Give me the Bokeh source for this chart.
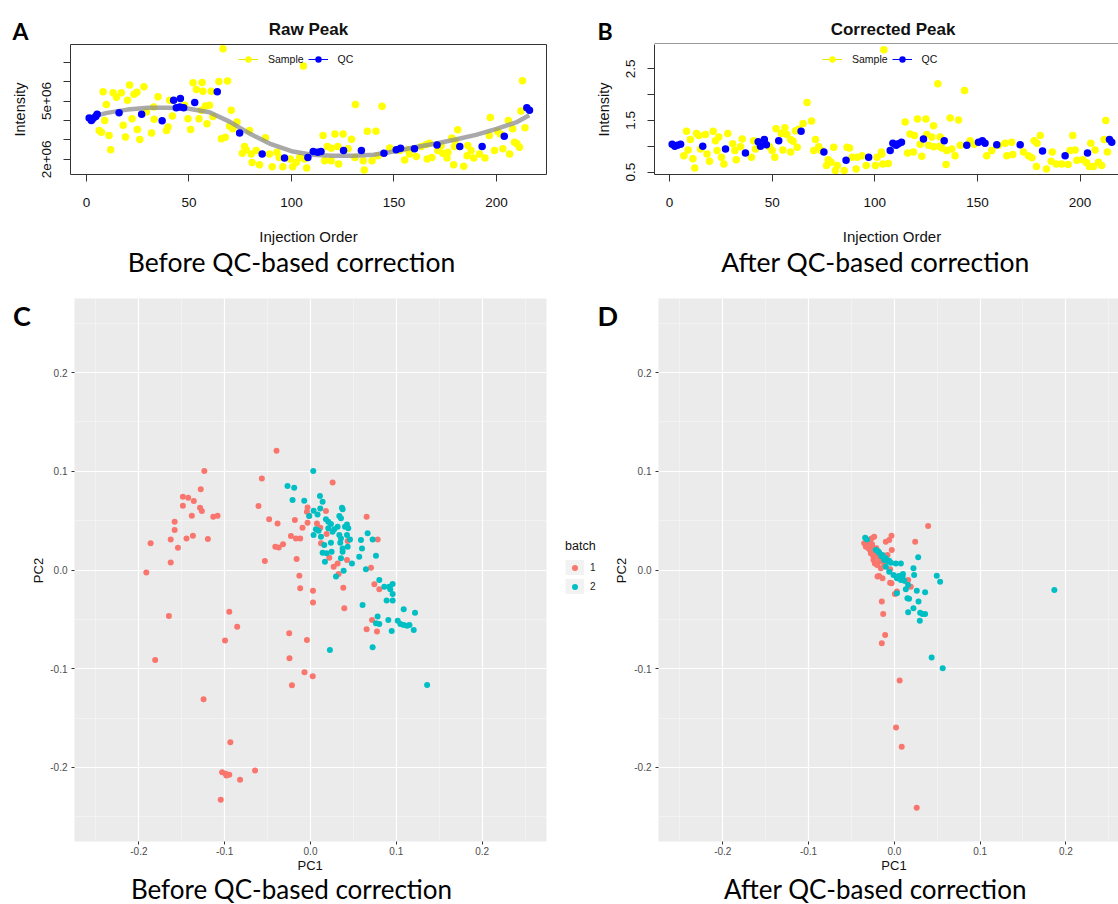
import math
from bokeh.plotting import figure
from bokeh.models import (Legend, LegendItem, FixedTicker, LinearAxis, Range1d, PrintfTickFormatter)
from bokeh.layouts import column, row
from bokeh.embed import file_html
from bokeh.resources import INLINE
from bokeh.core.properties import value

# ---------------- data ----------------
# Panel A: raw peak (intensity in millions)
raw_sample_order = [66.6, 8.1, 13, 17, 21, 23.2, 24.6, 28, 20, 14.6, 9.7, 8.9, 6.2, 7.3, 11, 11.8, 19, 22.2,
                    17.9, 24.8, 26, 31.7, 33, 29.2, 32.8, 34.9, 39, 39.8, 40.6, 41.9, 47.9, 49.5, 50.8, 54.9,
                    56, 52, 56.4, 53.6, 56.8, 60.9, 64.6, 68.8, 58, 60, 61.7, 58.8, 70.6, 69.8, 71.4, 65.8,
                    67.7, 73.4, 79.5, 87.3, 77.1, 77.9, 76, 80.4, 82.8, 80.8, 84.4, 89.3, 90.6, 92.9, 94,
                    95.8, 99.4, 100.6, 104, 102.3, 106.3,
                    105.8, 131.2, 144.2, 212.7, 197, 211.9, 213.9, 205.8, 181.1, 178.2, 179.8, 196.5, 200.6,
                    201.9, 207.9, 208.8, 210, 211.2, 203.1, 199, 206.4, 121.2, 125.2, 115.4, 129.3, 137,
                    141.2, 117.5, 119.4, 122.6, 127.6, 116.2, 119.4, 123, 130.9, 135, 135.5, 139.3, 107.4,
                    142.2, 147.9, 155.2, 157.6, 160.9, 163.3, 165.7, 167.3, 166.2, 168.5, 171.4, 173, 173.8,
                    175.9, 179.1, 176.3, 184, 186, 187.6, 185.7, 188.9, 191.7, 194.4, 152.8, 156.9, 179.5]
raw_sample_intensity = [7.69, 5.48, 5.43, 5.43, 5.82, 5.35, 5.45, 5.74, 5.04, 5.2, 4.82, 4.0, 3.49, 3.4, 3.23,
                        2.5, 3.15, 4.09, 3.75, 3.54, 3.02, 3.35, 4.06, 4.44, 4.7, 5.22, 3.49, 3.66, 5.04,
                        4.23, 4.79, 4.09, 3.54, 4.09, 4.53, 5.94, 5.96, 5.6, 5.5, 5.5, 6.0, 6.03, 4.75, 4.79,
                        4.21, 3.83, 4.53, 3.7, 3.57, 3.06, 3.14, 3.92, 3.49, 3.11, 2.66, 2.48, 2.31, 2.28,
                        2.45, 1.84, 1.72, 2.28, 1.62, 2.36, 2.1, 1.62, 2.02, 1.62, 2.1, 1.84, 2.02,
                        6.81, 4.82, 4.73, 6.05, 4.15, 4.49, 3.63, 4.0, 3.52, 3.1, 2.97, 3.23, 3.45, 3.31,
                        3.57, 2.88, 2.8, 2.62, 2.54, 2.45, 2.28, 3.31, 3.31, 3.23, 3.04, 3.44, 3.44, 2.66,
                        2.57, 2.66, 2.54, 1.93, 1.93, 1.76, 2.1, 1.93, 1.45, 1.93, 1.55, 2.19, 2.59, 1.97,
                        2.28, 2.14, 2.66, 2.76, 2.83, 2.02, 2.1, 2.45, 2.71, 2.31, 2.07, 1.72, 2.36, 1.65,
                        2.71, 2.45, 2.19, 2.07, 2.28, 2.07, 2.45, 2.5, 2.66]
raw_qc_order = [1.3, 2.4, 3.2, 4.5, 5.2, 15.9, 26.9, 36.9, 42.5, 43.8, 45.5, 45.8, 47.4, 52.8, 63.8, 74.7,
                85.7, 96.6, 108, 110.6, 112.8, 114.4, 125.4, 134.1, 145.1, 151.1, 153.2, 160, 171, 182.1,
                193, 203.8, 214.8, 216.1]
raw_qc_intensity = [4.13, 4.0, 4.1, 4.2, 4.32, 4.4, 4.32, 3.99, 5.04, 4.65, 4.7, 5.13, 4.65, 4.92, 5.48,
                    3.35, 2.28, 2.07, 2.1, 2.41, 2.36, 2.4, 2.45, 2.45, 2.31, 2.5, 2.57, 2.54, 2.74, 2.66,
                    2.66, 3.19, 4.65, 4.53]
raw_fit_order = [1, 10, 20, 30, 40, 50, 60, 70, 80, 90, 100, 110, 120, 130, 140, 150, 160, 170, 180, 190,
                 200, 210, 216]
raw_fit_intensity = [4.15, 4.39, 4.56, 4.65, 4.65, 4.6, 4.42, 3.93, 3.3, 2.78, 2.42, 2.24, 2.18, 2.18, 2.24,
                     2.4, 2.62, 2.8, 3.02, 3.26, 3.57, 3.92, 4.27]
raw_x_ticks = [0, 50, 100, 150, 200]
raw_y_ticks = [2, 3, 4, 5, 6, 7]
raw_y_tick_labels = {2: "2e+06", 3: "", 4: "", 5: "5e+06", 6: "", 7: ""}

# Panel B: corrected peak
cor_sample_order = [104.4, 67, 69.2, 65.1, 51.9, 56.2, 54.5, 59, 61.4, 60.2, 57.2, 62.2, 59, 55.2, 51.3, 50,
                    48.7, 41, 41.9, 35.4, 34.6, 31.8, 32.5, 39.9, 30.8, 28.4, 26.5, 25.3, 24, 22.4, 21.3,
                    23.2, 19.5, 18.3, 17.5, 14.3, 15.1, 13.2, 10.2, 8.3, 9.1, 7, 11.4, 12.3, 71.1, 72.7, 70.3,
                    73.9, 77.3, 80, 78.7, 76.5, 81.7, 80.8, 85.1, 86.5, 87.7, 89, 91.4, 93.8, 90.9, 95.8,
                    100.3, 101.1, 103.2, 103.9, 63,
                    130.7, 143.7, 114.8, 120.8, 124.9, 136.7, 140.8, 128.6, 212.5, 117.2, 119.3, 125.3, 127.8,
                    131.8, 131.5, 128.6, 132.6, 126.2, 122.1, 116, 118.8, 122.9, 134.7, 106.6, 135, 137.5,
                    139.1, 141.6, 146.4, 148.4, 154.5, 157, 160.2, 163.5, 166.7, 164.3, 167.2, 172.4, 174.8,
                    176.5, 177.6, 179, 180.6, 178.7, 183.6, 186.4, 185.9, 188.4, 191, 194.2, 196.4, 195.1,
                    197.6, 198.4, 201.3, 203.2, 205.2, 207.3, 204.5, 206.5, 208.9, 210.5, 211.7, 213.3, 103.4]
cor_sample_intensity = [2.87, 1.85, 1.49, 1.44, 1.34, 1.36, 1.25, 1.13, 1.3, 1.1, 1.23, 0.98, 0.89, 0.93,
                        0.79, 0.92, 0.99, 1.11, 0.95, 1.14, 0.99, 0.92, 0.74, 0.79, 1.05, 1.25, 0.66, 0.79,
                        1.18, 1.11, 1.29, 0.92, 0.71, 0.85, 1.23, 1.21, 0.95, 1.25, 1.13, 1.29, 0.93, 0.82,
                        0.76, 0.58, 1.13, 0.99, 0.92, 0.92, 0.74, 0.98, 0.69, 0.63, 0.63, 0.53, 0.53, 0.98,
                        0.97, 0.79, 0.79, 0.82, 0.56, 0.63, 0.63, 0.79, 0.89, 0.66, 1.33,
                        2.21, 2.08, 1.47, 1.53, 1.53, 1.55, 1.51, 1.4, 1.5, 1.24, 1.21, 1.23, 1.18, 1.18, 1.0,
                        0.99, 0.97, 1.02, 1.04, 0.87, 0.89, 0.81, 0.65, 0.67, 0.92, 0.95, 0.82, 1.02, 1.11,
                        1.04, 0.82, 0.92, 1.02, 1.06, 1.08, 0.82, 0.84, 0.89, 0.82, 0.78, 1.11, 1.06, 1.21,
                        0.61, 0.56, 0.89, 0.71, 0.66, 0.66, 0.65, 1.21, 0.92, 0.93, 0.73, 0.74, 0.68, 1.06,
                        0.93, 0.61, 0.61, 0.69, 0.63, 1.13, 0.89, 0.85]
cor_qc_order = [1.3, 2.6, 3.9, 5.4, 16.2, 27.3, 37, 43.2, 44.3, 46.2, 47.2, 53.2, 64.1, 75.2, 86, 97, 107.5,
                108.8, 110.4, 111.5, 113, 123.7, 133.8, 144.8, 150.5, 152.4, 153.7, 159.4, 170.8, 181.7,
                192.7, 203.6, 214.3, 215.4]
cor_qc_intensity = [1.04, 1.0, 1.02, 1.04, 1.0, 0.95, 0.87, 1.09, 1.0, 1.13, 1.03, 1.11, 1.29, 0.89, 0.73,
                    0.79, 0.92, 1.06, 1.02, 1.05, 1.08, 1.14, 1.11, 1.02, 1.08, 1.11, 1.06, 1.03, 1.03, 0.91,
                    0.82, 0.87, 1.13, 1.08]
cor_x_ticks = [0, 50, 100, 150, 200]
cor_y_ticks = [0.5, 1.0, 1.5, 2.0, 2.5]
cor_y_tick_labels = {0.5: "0.5", 1.0: "", 1.5: "1.5", 2.0: "", 2.5: "2.5"}

# Panel C: PCA before correction
before_b1_pc1 = [-0.1237, -0.1279, -0.1487, -0.1425, -0.136, -0.1487, -0.1287, -0.1266, -0.1383, -0.1133,
                 -0.1083, -0.1583, -0.1583, -0.1629, -0.1445, -0.137, -0.1196, -0.1545, -0.1863, -0.1629,
                 -0.1913,
                 -0.0396, -0.0567, 0.0258, -0.0606, -0.0482, -0.0384, -0.0182, -0.0093, -0.0034, -0.0042,
                 -0.0015, -0.0034, -0.0228, -0.017, -0.012, -0.041, -0.037, -0.032, -0.0532, -0.0162,
                 -0.013, -0.012, 0.0029, 0.0029, -0.0248, -0.0042, 0.018, 0.0075, 0.0114, 0.0188, 0.0122,
                 0.0433, 0.0219, 0.027, 0.0316, 0.0328, 0.0425, 0.0382, 0.0394, 0.0654, 0.0783, 0.0705,
                 0.0744, 0.0802, 0.0717, 0.0654, 0.0775,
                 -0.0946, -0.165, -0.0854, -0.0996, -0.0245, -0.181, -0.007, 0.0026, -0.0216, -0.1246,
                 -0.0934, -0.103, -0.0988, -0.0946, -0.098, -0.0646, -0.0821, -0.1046]
before_b1_pc2 = [0.1002, 0.0817, 0.0742, 0.0732, 0.0698, 0.0651, 0.0631, 0.0597, 0.055, 0.054, 0.055,
                 0.0489, 0.0405, 0.031, 0.032, 0.0348, 0.0314, 0.0226, 0.027, 0.0076, -0.0025,
                 0.1208, 0.0928, 0.0887, 0.0648, 0.0513, 0.0472, 0.0506, 0.0428, 0.0634, 0.059, 0.055,
                 0.0479, 0.0344, 0.032, 0.032, 0.0236, 0.0229, 0.026, 0.0091, 0.0111, -0.0057, -0.0186,
                 -0.0209, -0.033, -0.064, -0.0709, 0.0597, 0.0472, 0.0428, 0.0364, 0.027, 0.0294, 0.0125,
                 0.0034, 0.0067, -0.004, 0.0101, -0.0179, -0.0388, 0.054, 0.031, 0.0024, -0.0145, -0.0196,
                 -0.0506, -0.06, -0.0624,
                 -0.0422, -0.0466, -0.0574, -0.0715, -0.0894, -0.0911, -0.1036, -0.1076, -0.1167, -0.1309,
                 -0.1744, -0.2048, -0.2065, -0.2075, -0.2082, -0.2031, -0.2125, -0.2328]
before_b2_pc1 = [0.0032, -0.0268, -0.019, -0.0209, -0.0073, 0.011, 0.0141, 0.0114, 0.0367, 0.0374, 0.0036,
                 0.0082, -0.0015, 0.018, 0.0207, 0.0238, 0.0336, 0.0355, 0.0425, 0.044, 0.0402, 0.0316,
                 0.0277, 0.0207, 0.0257, 0.0063, 0.0094, 0.0036, 0.0122, 0.0336, 0.0355, 0.0425, 0.046,
                 0.0347, 0.0238, 0.016, 0.0374, 0.0433, 0.0141, 0.0188, 0.0246, 0.0168, 0.0355, 0.0374,
                 0.0483, 0.0568, 0.06, 0.0588, 0.0666, 0.0724, 0.0763, 0.0646, 0.0386, 0.0297, 0.0802,
                 0.086, 0.0918, 0.0957, 0.0929, 0.0957, 0.0887, 0.0957, 0.0607, 0.1086, 0.1218, 0.0782,
                 0.0907, 0.1016, 0.0763, 0.0802, 0.0946, 0.1047, 0.1086, 0.1125, 0.1153, 0.1203, 0.0724,
                 0.0226, 0.1359]
before_b2_pc2 = [0.1002, 0.085, 0.0833, 0.0708, 0.0702, 0.0749, 0.0692, 0.0624, 0.0631, 0.0615, 0.0601,
                 0.0563, 0.0547, 0.0513, 0.0489, 0.0466, 0.0547, 0.0523, 0.0462, 0.0422, 0.0439, 0.0439,
                 0.0412, 0.0422, 0.0388, 0.0412, 0.0398, 0.0354, 0.0337, 0.0354, 0.032, 0.0354, 0.031,
                 0.0277, 0.0277, 0.0253, 0.0219, 0.0236, 0.0175, 0.0169, 0.0186, 0.0084, 0.0118, 0.0186,
                 0.0067, 0.0135, 0.0219, 0.0304, 0.0371, 0.031, 0.0145, 0.0007, -0.0007, -0.0067, -0.0101,
                 -0.0169, -0.0169, -0.0142, -0.0196, -0.0243, -0.031, -0.031, -0.0354, -0.0398, -0.0432,
                 -0.0472, -0.0506, -0.0513, -0.054, -0.0547, -0.0617, -0.0547, -0.0557, -0.0564, -0.0557,
                 -0.0607, -0.0783, -0.081, -0.1164]

# Panel D: PCA after correction
after_b1_pc1 = [0.0394, -0.0033, 0.0243, -0.0099, -0.003, -0.0266, -0.0235, -0.0313, -0.0282, -0.0255,
                -0.03, -0.0235, -0.0216, -0.0274, -0.0196, -0.0243, -0.0227, -0.0177, -0.0138, -0.0119,
                -0.0157, -0.0177, -0.0138, -0.0196, -0.0049, -0.0049, -0.0033, 0.0006, 0.003, 0.0146,
                0.0161, 0.0192, -0.006, -0.008, -0.0332, -0.0351, -0.0146, -0.013, -0.0107, -0.0146,
                0.0062, 0.002, 0.0086, 0.0261, -0.029, -0.026, -0.032, -0.028, -0.025, -0.021, -0.024,
                -0.02, -0.016, -0.018]
after_b1_pc2 = [0.0445, 0.0348, 0.0287, 0.0287, 0.0202, 0.032, 0.0337, 0.0304, 0.027, 0.0236, 0.0219,
                0.0202, 0.0169, 0.0169, 0.0135, 0.0101, 0.0067, 0.0084, 0.0101, 0.0051, 0.0017, -0.0061,
                -0.0084, -0.0067, 0.0007, -0.0128, -0.0135, -0.0243, -0.0219, -0.0118, -0.0101, -0.0169,
                0.0304, 0.0152, 0.0236, 0.027, -0.032, -0.0445, -0.0658, -0.0742, -0.112, -0.1596,
                -0.1791, -0.2409, 0.029, 0.026, 0.025, 0.02, 0.015, 0.022, 0.012, 0.005, 0.012, 0.018]
after_b2_pc1 = [-0.034, -0.0216, -0.0177, -0.0138, -0.0099, -0.006, -0.0119, -0.004, 0.0017, 0.0076, 0.0278,
                0.0223, -0.0099, -0.006, -0.001, 0.003, 0.0076, 0.0096, 0.0115, 0.0231, 0.0495, 0.0534,
                0.0161, 0.0134, 0.0262, 0.0359, 0.003, 0.0153, 0.0172, 0.0282, 0.0223, 0.0161, 0.0301,
                0.0328, 0.0359, 0.0297, 0.1866, 0.0435, 0.0564, -0.032, -0.019, -0.015, -0.008, 0.005,
                0.01]
after_b2_pc2 = [0.0327, 0.0202, 0.0175, 0.0152, 0.0118, 0.0094, 0.0101, 0.0074, 0.0067, 0.0067, 0.0128,
                0.0017, 0.0034, -0.0017, -0.0051, -0.0084, -0.0101, -0.0067, -0.0108, -0.0051, -0.0057,
                -0.0118, -0.0152, -0.0196, -0.0209, -0.0226, -0.0236, -0.0287, -0.029, -0.032, -0.0388,
                -0.0428, -0.0432, -0.0445, -0.0445, -0.0513, -0.0202, -0.0887, -0.0995, 0.031, 0.019,
                0.014, 0.009, -0.006, -0.004]
pc_ticks = [-0.2, -0.1, 0.0, 0.1, 0.2]
pc_minor_ticks = [-0.25, -0.15, -0.05, 0.05, 0.15, 0.25]
batch_labels = ["1", "2"]

# ---------------- styles ----------------
R_FONT = "Liberation Sans"
CAP_FONT = "Lato"
BOX = "#333333"
YELLOW = "#FFFF00"
BLUE = "#0000FF"
RED = "#F8766D"
TEAL = "#00BFC4"
INK = "#111111"


def strip(width, height, top=0, bottom=0):
    """Text-only strip; units are pixels measured up from the frame bottom."""
    p = figure(width=width, height=height, x_range=Range1d(0, width),
               y_range=Range1d(0, height - top - bottom),
               x_axis_type=None, y_axis_type=None, output_backend="svg", toolbar_location=None,
               min_border=0, min_border_left=0, min_border_right=0, min_border_top=top,
               min_border_bottom=bottom, outline_line_color=None, background_fill_color="white",
               border_fill_color="white")
    return p


def txt(p, x, y, s, size, font=R_FONT, style="normal", align="center", angle=0.0, color=INK):
    p.text(x=[x], y=[y], text=[s], text_font=value(font), text_font_size=value(f"{size}px"),
           text_font_style=style, text_align=align, text_baseline="middle", angle=angle,
           text_color=color)


def r_panel(width, x_rng, y_rng, border_left, border_right, xticks, yticks, ylabels, boxed):
    p = figure(width=width, height=176, x_range=Range1d(*x_rng), y_range=Range1d(*y_rng),
               x_axis_type=None, y_axis_type=None, output_backend="svg", toolbar_location=None,
               min_border_left=border_left, min_border_right=border_right, min_border_top=0,
               min_border_bottom=46, outline_line_color=BOX if boxed else None,
               border_fill_color="white")
    xa = LinearAxis(ticker=FixedTicker(ticks=xticks))
    ya = LinearAxis(ticker=FixedTicker(ticks=yticks), major_label_overrides=ylabels,
                    major_label_orientation="vertical")
    for ax in (xa, ya):
        ax.axis_line_color = None if boxed else BOX
        ax.major_tick_line_color = BOX
        ax.minor_tick_line_color = None
        ax.major_tick_out = 7
        ax.major_tick_in = 0
        ax.major_label_text_font = R_FONT
        ax.major_label_text_font_size = "13.5px"
        ax.major_label_text_color = INK
    xa.major_label_standoff = 16
    ya.major_label_standoff = 12
    ya.axis_label = "Intensity"
    ya.axis_label_text_font = R_FONT
    ya.axis_label_text_font_size = "14.5px"
    ya.axis_label_text_font_style = "normal"
    ya.axis_label_text_color = INK
    ya.axis_label_standoff = 12
    p.add_layout(xa, "below")
    p.add_layout(ya, "left")
    return p


def r_content(p, s_x, s_y, q_x, q_y, fit_x=None, fit_y=None):
    ys = p.scatter(s_x, s_y, size=7.5, color=YELLOW, line_color=None)
    if fit_x is not None:
        p.line(fit_x, fit_y, line_color="#8C8C8C", line_width=4.5, line_alpha=0.75)
    qs = p.scatter(q_x, q_y, size=7.5, color=BLUE, line_color=None)
    yl = p.line(s_x, s_y, line_color="#E6E600", line_width=1, visible=False)
    bl = p.line(q_x, q_y, line_color=BLUE, line_width=1, visible=False)
    leg = Legend(items=[LegendItem(label="Sample", renderers=[yl, ys]),
                        LegendItem(label="QC", renderers=[bl, qs])],
                 orientation="horizontal", location=(168, 107), border_line_color=None,
                 background_fill_alpha=0, glyph_width=20, glyph_height=16, label_standoff=10,
                 spacing=4, padding=0, margin=0, label_text_font=R_FONT,
                 label_text_font_size="10.5px", label_text_color=INK)
    p.add_layout(leg)


# ---------------- top row: A and B ----------------
top_strip = strip(1118, 44)
txt(top_strip, 12, 14, "A", 23, font=CAP_FONT, style="bold", align="left", color="black")
txt(top_strip, 308, 15.5, "Raw Peak", 17, style="bold")
txt(top_strip, 597, 14, "B", 23, font=CAP_FONT, style="bold", align="left", color="black")
txt(top_strip, 892.5, 15.5, "Corrected Peak", 17, style="bold")
top_strip.line(x=[654, 1118], y=[0.5, 0.5], line_color=BOX, line_width=1)  # top edge of panel B box

pA = r_panel(560, (-7.8, 224.4), (1.22, 7.91), 70, 14, raw_x_ticks, raw_y_ticks, raw_y_tick_labels, True)
r_content(pA, raw_sample_order, raw_sample_intensity, raw_qc_order, raw_qc_intensity,
          raw_fit_order, raw_fit_intensity)

pB = r_panel(558, (-7.3, 218.7), (0.455, 2.97), 94, 0, cor_x_ticks, cor_y_ticks, cor_y_tick_labels, False)
r_content(pB, cor_sample_order, cor_sample_intensity, cor_qc_order, cor_qc_intensity)

mid_strip = strip(1118, 62)
txt(mid_strip, 308, 45.7, "Injection Order", 15)
txt(mid_strip, 891.5, 45.7, "Injection Order", 15)
txt(mid_strip, 291, 20.5, "Before QC-based correction", 26.5, font=CAP_FONT, color="black")
txt(mid_strip, 875, 20.5, "After QC-based correction", 26.5, font=CAP_FONT, color="black")


# ---------------- bottom row: C and D ----------------
def gg_panel(width, border_left, border_right, x_end):
    p = figure(width=width, height=576, x_range=Range1d(-0.275, x_end), y_range=Range1d(-0.275, 0.275),
               output_backend="svg", toolbar_location=None, min_border_left=border_left,
               min_border_right=border_right, min_border_top=16, min_border_bottom=17,
               background_fill_color="#EBEBEB", outline_line_color=None, border_fill_color="white")
    for ax in (p.xaxis[0], p.yaxis[0]):
        ax.ticker = FixedTicker(ticks=pc_ticks, minor_ticks=pc_minor_ticks)
        ax.formatter = PrintfTickFormatter(format="%.1f")
        ax.axis_line_color = None
        ax.major_tick_out = 3
        ax.major_tick_in = 0
        ax.major_tick_line_color = "#333333"
        ax.minor_tick_line_color = None
        ax.major_label_text_font = R_FONT
        ax.major_label_text_font_size = "10px"
        ax.major_label_text_color = "#4D4D4D"
        ax.major_label_standoff = 3
    p.xaxis[0].major_label_standoff = 1
    for g in p.grid:
        g.grid_line_color = "white"
        g.grid_line_width = 1.2
        g.minor_grid_line_color = "white"
        g.minor_grid_line_alpha = 0.55
        g.minor_grid_line_width = 0.7
    return p


# strips share the frame rows of the neighbouring PCA panels (frame spans y 298..841)
strip_c = strip(45, 576, top=16, bottom=17)
txt(strip_c, 12.5, 526, "C", 27, font=CAP_FONT, style="bold", align="left", color="black")
txt(strip_c, 37.5, 271, "PC2", 13, angle=math.pi / 2)

pC = gg_panel(515, 29, 14, 0.275)
pC.scatter(before_b1_pc1, before_b1_pc2, size=6, color=RED, line_color=None)
pC.scatter(before_b2_pc1, before_b2_pc2, size=6, color=TEAL, line_color=None)

strip_d = strip(70, 576, top=16, bottom=17)
txt(strip_d, 37, 526, "D", 27, font=CAP_FONT, style="bold", align="left", color="black")
txt(strip_d, 60.5, 271, "PC2", 13, angle=math.pi / 2)
key_bg = strip_d.line(after_b1_pc1, after_b1_pc2, line_color="#F2F2F2", line_width=18, visible=False)
k1 = strip_d.scatter(after_b1_pc1, after_b1_pc2, size=6, color=RED, line_color=None, visible=False)
k2 = strip_d.scatter(after_b2_pc1, after_b2_pc2, size=6, color=TEAL, line_color=None, visible=False)
leg_batch = Legend(items=[LegendItem(label=batch_labels[0], renderers=[key_bg, k1]),
                          LegendItem(label=batch_labels[1], renderers=[key_bg, k2])],
                   title="batch", location=(5, 245), orientation="vertical", border_line_color=None,
                   background_fill_alpha=0, glyph_width=19, glyph_height=15, label_height=19,
                   label_standoff=6, spacing=0, padding=0, margin=0, label_text_font=R_FONT,
                   label_text_font_size="10px", label_text_color="#222222", title_text_font=R_FONT,
                   title_text_font_size="12.5px", title_text_font_style="normal",
                   title_text_color=INK, title_standoff=5)
strip_d.add_layout(leg_batch)

pD = gg_panel(488, 28, 0, 0.2614)
pD.scatter(after_b1_pc1, after_b1_pc2, size=6, color=RED, line_color=None)
pD.scatter(after_b2_pc1, after_b2_pc2, size=6, color=TEAL, line_color=None)

bottom_strip = strip(1118, 46)
txt(bottom_strip, 309.6, 38.7, "PC1", 13)
txt(bottom_strip, 893.5, 38.7, "PC1", 13)
txt(bottom_strip, 291, 15.6, "Before QC-based correction", 26, font=CAP_FONT, color="black")
txt(bottom_strip, 875, 15.6, "After QC-based correction", 26, font=CAP_FONT, color="black")

layout = column(top_strip, row(pA, pB), mid_strip, row(strip_c, pC, strip_d, pD), bottom_strip)
open("out.html", "w").write(file_html(layout, INLINE))
